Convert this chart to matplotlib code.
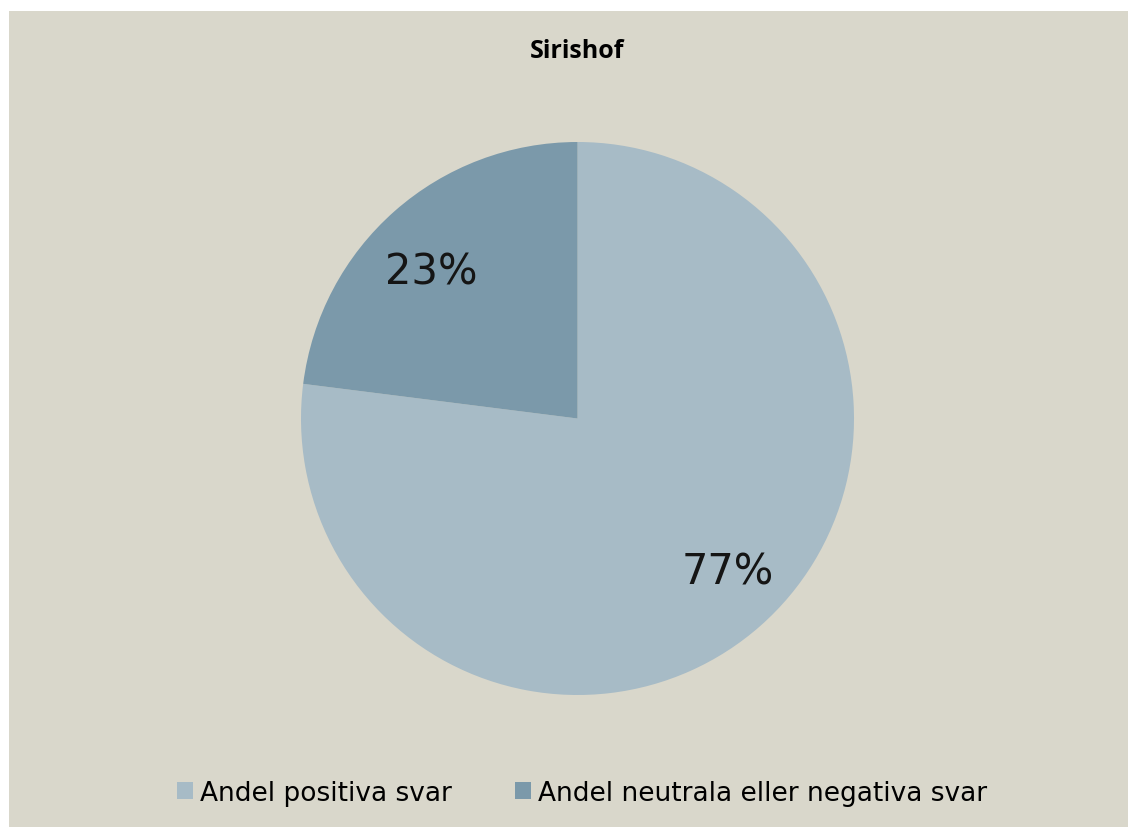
import matplotlib
matplotlib.use("Agg")
import matplotlib.pyplot as plt
from matplotlib.patches import Patch, Rectangle

title = "Sirishof"
labels = ["Andel positiva svar", "Andel neutrala eller negativa svar"]
shares = [77, 23]
colors = ["#A7BBC6", "#7B99AA"]
bg = "#D9D7CB"

W, H = 1128, 828
fig = plt.figure(figsize=(W / 100, H / 100), dpi=100)
fig.patch.set_facecolor("white")
fig.patches.append(Rectangle((9 / W, 0), 1 - 9 / W, 1 - 12 / H,
                             transform=fig.transFigure, facecolor=bg,
                             edgecolor="none", zorder=-10))

ax = fig.add_axes([301 / W, (H - 696) / H, 553 / W, 553 / H])
ax.set_facecolor("none")
wedges, _, autotexts = ax.pie(
    shares, colors=colors, startangle=90, counterclock=False,
    autopct="%d%%", pctdistance=0.77, radius=1,
    textprops=dict(fontsize=30, family="DejaVu Sans", color="#151515"),
)
# nudge the percentage labels to where the original chart puts them
autotexts[0].set_position((0.545, -0.555))
autotexts[1].set_position((-0.53, 0.53))
ax.set_xlim(-1, 1)
ax.set_ylim(-1, 1)
ax.set_aspect("equal")
ax.axis("off")

fig.text(577 / W, 1 - 52 / H, title, ha="center", va="center",
         fontsize=18, fontweight="bold", family="Open Sans")

handles = [Patch(facecolor=c, edgecolor="none") for c in colors]
fig.legend(handles, labels, loc="center", bbox_to_anchor=(582 / W, 1 - 794 / H),
           ncol=2, frameon=False, handlelength=0.6, handleheight=0.6,
           handletextpad=0.27, columnspacing=2.4,
           prop=dict(family="DejaVu Sans", size=19))

fig.savefig("out.png", dpi=100, facecolor=fig.get_facecolor())
